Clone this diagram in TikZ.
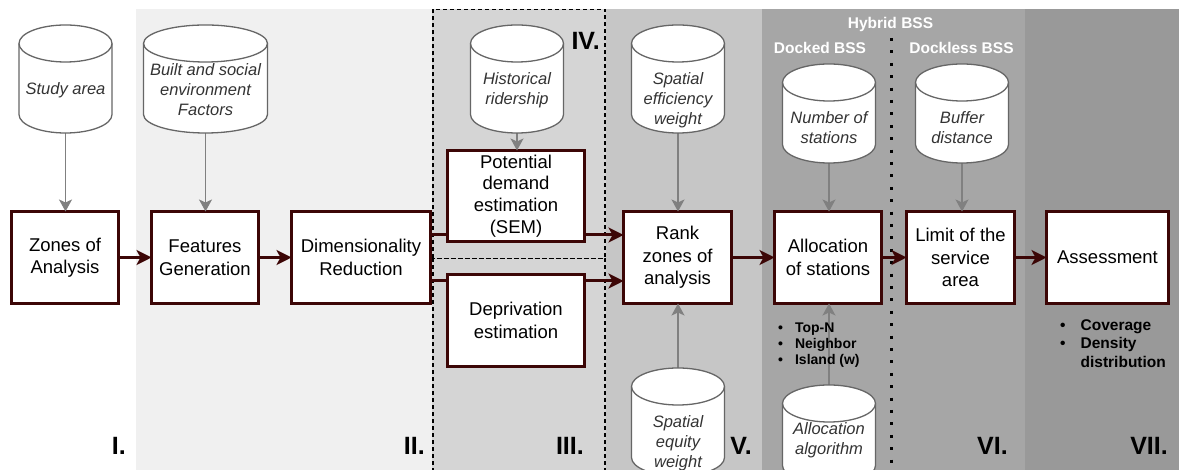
\documentclass[tikz,border=0pt]{standalone}
\usepackage{fontspec}
\setmainfont{Liberation Sans}
\usetikzlibrary{arrows.meta,calc}
\definecolor{maroon}{RGB}{60,6,6}
\definecolor{bandII}{HTML}{F0F0F0}
\definecolor{bandIII}{HTML}{D5D5D5}
\definecolor{bandV}{HTML}{C6C6C6}
\definecolor{bandVI}{HTML}{A6A6A6}
\definecolor{bandVII}{HTML}{999999}
\definecolor{cylgray}{HTML}{666666}
\definecolor{arrgray}{HTML}{808080}
\definecolor{cyltxt}{HTML}{333333}
\tikzset{
 procbox/.style={draw=maroon, line width=3pt, fill=white, minimum height=92pt, inner sep=1pt, outer sep=0pt, align=center, font=\fontsize{18.5}{22.5}\selectfont},
 cylbox/.style 2 args={minimum width=#1, minimum height=#2, inner sep=0pt, outer sep=0pt},
 cyltext/.style={align=center, font=\fontsize{16.5}{20}\selectfont\itshape, text=cyltxt, inner sep=0pt},
 cylline/.style={draw=cylgray, line width=1.3pt, fill=white},
 garrow/.style={draw=arrgray, line width=1.6pt, -{Stealth[length=12pt,width=13pt,inset=3pt]}},
 mline/.style={draw=maroon, line width=3pt},
 marrow/.style={mline, -{Stealth[length=15pt,width=15pt,inset=4pt]}},
 roman/.style={font=\fontsize{25}{30}\selectfont\bfseries, inner sep=0pt, anchor=base east},
 bsslabel/.style={font=\fontsize{15.5}{18}\selectfont\bfseries, text=white, inner sep=0pt},
 bullets/.style={inner sep=0pt, anchor=west},
 dashbox/.style={draw=black, line width=1.2pt, dash pattern=on 4pt off 3pt},
 dotline/.style={draw=black, line width=3pt, dash pattern=on 3pt off 9.4pt},
}
\newcommand\cylpath[1]{%
  \path[cylline] let \p1=(#1.north west), \p2=(#1.south east), \n1={0.5*(\x2-\x1)} in
    (\x1,\y1-18.5pt) -- (\x1,\y2+18.5pt)
    arc[start angle=180,end angle=360,x radius=\n1,y radius=18.5pt]
    -- (\x2,\y1-18.5pt)
    arc[start angle=0,end angle=180,x radius=\n1,y radius=18.5pt]
    -- cycle;
  \path[cylline,fill=none] let \p1=(#1.north west), \p2=(#1.south east), \n1={0.5*(\x2-\x1)} in
    (\x1,\y1-18.5pt) arc[start angle=180,end angle=360,x radius=\n1,y radius=18.5pt];
}
\begin{document}
\begin{tikzpicture}[x=1pt,y=1pt]
\useasboundingbox (0,0) rectangle (1179,470);
\fill[white] (0,0) rectangle (1179,470);
% bands
\fill[bandII] (136,0) rectangle (432,461);
\fill[bandIII] (432,0) rectangle (606,461);
\fill[bandV] (606,0) rectangle (762,461);
\fill[bandVI] (762,0) rectangle (1025,461);
\fill[bandVII] (1025,0) rectangle (1179,461);
% dashed groups
\draw[dashbox] (433,211.5) rectangle (605,460.5);
\draw[dashbox] (433,-2) rectangle (605,211.5);
% dotted separator
\draw[dotline] (891,432) -- (891,0);

% process boxes
\node[procbox, minimum width=107pt] (zones) at (65,212.5) {Zones of\\Analysis};
\node[procbox, minimum width=107pt] (features) at (205,212.5) {Features\\Generation};
\node[procbox, minimum width=139pt] (dimred) at (361,212.5) {Dimensionality\\Reduction};
\node[procbox, minimum width=137pt, minimum height=91pt, font=\fontsize{18.5}{21.7}\selectfont] (potential) at (516,274) {Potential\\demand\\estimation\\(SEM)};
\node[procbox, minimum width=137pt] (deprivation) at (516,149.5) {Deprivation\\estimation};
\node[procbox, minimum width=108pt] (rank) at (677.5,212.5) {Rank\\zones of\\analysis};
\node[procbox, minimum width=107pt] (alloc) at (828,212.5) {Allocation\\of stations};
\node[procbox, minimum width=108pt] (limit) at (960.5,212.5) {Limit of the\\service\\area};
\node[procbox, minimum width=122pt] (assess) at (1107.5,212.5) {Assessment};

% cylinders
\node[cylbox={93pt}{108pt}] (studyC) at (65.5,391) {};
\node[cylbox={124pt}{108pt}] (builtC) at (205.5,391) {};
\node[cylbox={93pt}{108pt}] (histC) at (517,391) {};
\node[cylbox={93pt}{108pt}] (effC) at (678,391) {};
\node[cylbox={93pt}{99pt}] (numC) at (829,356.5) {};
\node[cylbox={93pt}{99pt}] (bufC) at (962,356.5) {};
\node[cylbox={93pt}{108pt}] (eqC) at (678,48) {};
\node[cylbox={93pt}{99pt}] (algC) at (829,35.5) {};

% gray arrows
\draw[garrow] (studyC.south) -- (studyC.south |- zones.north);
\draw[garrow] (builtC.south) -- (builtC.south |- features.north);
\draw[garrow] (histC.south) -- (histC.south |- potential.north);
\draw[garrow] (effC.south) -- (effC.south |- rank.north);
\draw[garrow] (numC.south) -- (numC.south |- alloc.north);
\draw[garrow] (bufC.south) -- (bufC.south |- limit.north);
\draw[garrow] (eqC.north) -- (eqC.north |- rank.south);
\draw[garrow] (algC.north) -- (algC.north |- alloc.south);

\cylpath{studyC}
\cylpath{builtC}
\cylpath{histC}
\cylpath{effC}
\cylpath{numC}
\cylpath{bufC}
\cylpath{eqC}
\cylpath{algC}

\node[cyltext] (studyT) at (65.5,380) {Study area};
\node[cyltext] (builtT) at (205.5,380) {Built and social\\environment\\Factors};
\node[cyltext] (histT) at (517,380) {Historical\\ridership};
\node[cyltext] (effT) at (678,370) {Spatial\\efficiency\\weight};
\node[cyltext] (numT) at (829,342) {Number of\\stations};
\node[cyltext] (bufT) at (962,342) {Buffer\\distance};
\node[cyltext] (eqT) at (678,27) {Spatial\\equity\\weight};
\node[cyltext] (algT) at (829,30) {Allocation\\algorithm};

% maroon connectors
\draw[marrow] (zones.east) -- (features.west);
\draw[marrow] (features.east) -- (dimred.west);
\coordinate (dA) at ([yshift=22.5pt]dimred.east);
\coordinate (dB) at ([yshift=-23.5pt]dimred.east);
\draw[mline] (dA) -- (dA -| potential.west);
\draw[marrow] (dA -| potential.east) -- (dA -| rank.west);
\draw[mline] (dB) -- (dB -| deprivation.west);
\draw[marrow] (dB -| deprivation.east) -- (dB -| rank.west);
\draw[marrow] (rank.east) -- (alloc.west);
\draw[marrow] (alloc.east) -- (limit.west);
\draw[marrow] (limit.east) -- (assess.west);

% stage numerals
\node[roman] (rI) at (126,15) {I.};
\node[roman] (rII) at (425,15) {II.};
\node[roman] (rIII) at (584,15) {III.};
\node[roman] (rIV) at (600,420) {IV.};
\node[roman] (rV) at (752,15) {V.};
\node[roman] (rVI) at (1008,15) {VI.};
\node[roman] (rVII) at (1168,15) {VII.};

% BSS labels
\node[bsslabel] (hybrid) at (890.5,445) {Hybrid BSS};
\node[bsslabel] (docked) at (820,422) {Docked BSS};
\node[bsslabel] (dockless) at (961.5,422) {Dockless BSS};

% bullet lists
\node[bullets, font=\fontsize{14}{16}\selectfont\bfseries] (algos) at (778,125) {\begin{tabular}{@{}l@{\hspace{12pt}}l@{}}\textbullet&Top-N\\\textbullet&Neighbor\\\textbullet&Island (w)\end{tabular}};
\node[bullets, font=\fontsize{15.5}{18.7}\selectfont\bfseries] (metrics) at (1060,125) {\begin{tabular}{@{}l@{\hspace{15pt}}l@{}}\textbullet&Coverage\\\textbullet&Density\\&distribution\end{tabular}};
\end{tikzpicture}
\end{document}
